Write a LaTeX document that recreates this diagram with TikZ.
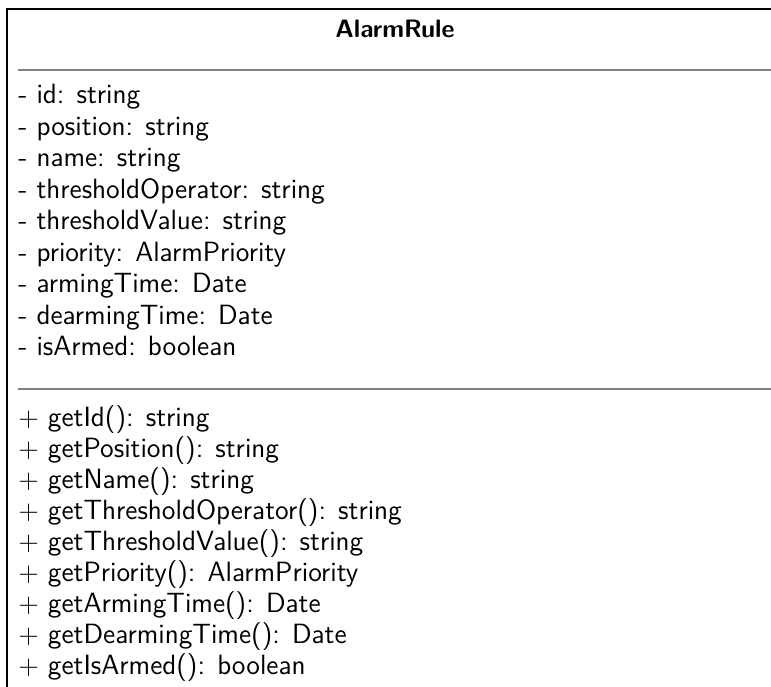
\documentclass[tikz,border=0pt]{standalone}
\begin{document}
\begin{tikzpicture}[x=0.535pt,y=-0.535pt,
  member/.style={anchor=base west,inner sep=0pt,font=\fontsize{14.9}{18}\sffamily}]
\useasboundingbox (0,0) rectangle (771,687);
%class frame
\draw[line width=0.8pt] (7,687) -- (7,9) -- (771,9);
\node[anchor=base,inner sep=0pt,font=\fontsize{13.5}{16}\sffamily\bfseries] (title) at (395,38) {AlarmRule};
%compartment rules
\draw[gray,line width=1pt] (18,70) -- (771,70);
\draw[gray,line width=1pt] (18,389) -- (771,389);
%attributes
\foreach \txt [count=\i] in {id: string, position: string, name: string,
    thresholdOperator: string, thresholdValue: string, priority: AlarmPriority,
    armingTime: Date, dearmingTime: Date, isArmed: boolean}
  \node[member] (attr\i) at (18,{104+31.5*(\i-1)}) {- \txt};
%operations
\foreach \txt [count=\i] in {getId(): string, getPosition(): string, getName(): string,
    getThresholdOperator(): string, getThresholdValue(): string,
    getPriority(): AlarmPriority, getArmingTime(): Date,
    getDearmingTime(): Date, getIsArmed(): boolean}
  \node[member] (op\i) at (18,{427+31*(\i-1)}) {$+$ \txt};
\end{tikzpicture}
\end{document}
